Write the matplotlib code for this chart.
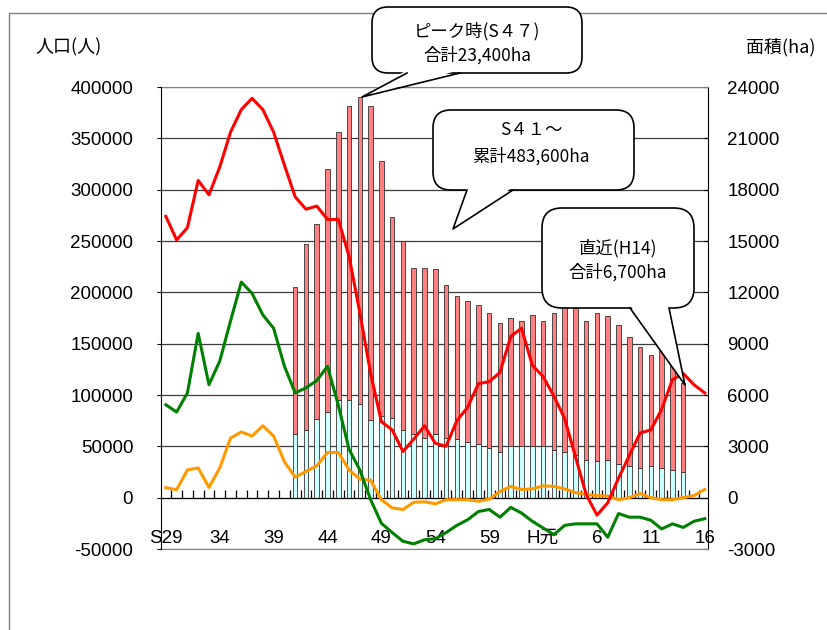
import matplotlib
matplotlib.use('Agg')
import matplotlib.pyplot as plt
from matplotlib.patches import FancyBboxPatch, Polygon, Rectangle
from matplotlib.lines import Line2D
from matplotlib.transforms import Affine2D
import numpy as np

plt.rcParams['font.family'] = ['Liberation Sans', 'Noto Sans CJK JP']

# ---------------- data ----------------
# fiscal years S29 (1954) ... H16 (2004), index 0..50
year_index = list(range(51))
xtick_pos = [0, 5, 10, 15, 20, 25, 30, 35, 40, 45, 50]
xtick_labels = ['S29', '34', '39', '44', '49', '54', '59', 'H元', '6', '11', '16']

red_pop = [274000, 251000, 263000, 309000, 295000, 322000, 356000, 378000, 389000, 378000,
           356000, 324000, 293000, 281000, 284000, 271000, 271000, 235000, 180000, 121000,
           74000, 66000, 45000, 57000, 70000, 53000, 50000, 75000, 88000, 111000,
           113000, 122000, 157000, 165000, 129000, 118000, 99000, 77000, 40000, 3000,
           -17000, -5000, 19000, 41000, 63000, 66000, 86000, 115000, 121000, 110000,
           102000]
green_pop = [90500, 83400, 102000, 160000, 110000, 133000, 172000, 210000, 199000, 178000,
             165000, 128000, 102000, 107000, 114000, 128000, 90000, 47000, 27000, -2000,
             -25000, -34000, -42500, -45000, -41000, -40000, -34000, -27000, -21500, -13500,
             -11500, -19000, -9500, -15000, -23000, -29500, -36000, -27000, -25500, -25500,
             -25500, -38500, -15500, -19000, -19000, -22000, -30500, -25500, -29000, -23000,
             -20500]
orange_pop = [9700, 7800, 27000, 29000, 10000, 29000, 58000, 64000, 60000, 70000,
              60000, 35000, 20000, 25500, 31000, 44000, 44000, 27000, 18000, 17000,
              -2000, -10000, -11500, -4500, -4000, -6000, -2000, -2000, -2000, -3500,
              -1500, 6000, 11000, 8000, 8500, 11500, 11000, 8500, 5000, 3000,
              2000, 1500, -2000, 0, 4000, 0, -2000, -2000, 0, 2000,
              8000]

# bars (ha), S41 (index 12) ... H14 (index 48)
bar_index = list(range(12, 49))
bar_total = [12300, 14800, 16000, 19200, 21350, 22900, 23400, 22900, 19700, 16400,
             15000, 13450, 13450, 13350, 12400, 11800, 11500, 11250, 10780, 10200,
             10490, 10300, 10650, 10300, 10780, 11230, 11080, 10300, 10780, 10590,
             10100, 9380, 8830, 8350, 8600, 7730, 6700]
bar_lower = [3720, 3950, 4620, 5000, 5700, 5680, 5500, 4520, 4770, 4630,
             3950, 3720, 3490, 3720, 3490, 3450, 3230, 3130, 2900, 2670,
             3040, 3040, 3000, 3000, 2800, 2670, 2510, 2220, 2120, 2220,
             1970, 1870, 1730, 1870, 1730, 1600, 1500]

left_ticks = list(range(-50000, 400001, 50000))
right_ticks = list(range(-3000, 24001, 3000))

# ---------------- figure ----------------
W, H = 827, 630
fig = plt.figure(figsize=(W / 100, H / 100), dpi=100)
px = Affine2D().scale(1 / W, -1 / H).translate(0, 1) + fig.transFigure

ax = fig.add_axes([161 / W, (H - 549) / H, 547 / W, 462 / H])
axb = ax.twinx()
axb.set_zorder(ax.get_zorder() - 1)
ax.patch.set_visible(False)
axb.patch.set_visible(True)
axb.patch.set_facecolor('white')

# bars (right axis)
bx = np.array(bar_index)
lower = np.array(bar_lower)
upper = np.array(bar_total) - lower
axb.bar(bx, lower, width=0.42, color='#CCFFFF', edgecolor='#333333', linewidth=0.6, zorder=2)
axb.bar(bx, upper, bottom=lower, width=0.42, color='#FF8080', edgecolor='#333333',
        linewidth=0.6, zorder=2)
axb.set_ylim(-3000, 24000)
axb.set_yticks(right_ticks)
axb.set_yticklabels([str(v) for v in right_ticks])
axb.yaxis.grid(True, color='#3c3c3c', linewidth=0.9)
axb.set_axisbelow(True)
axb.tick_params(axis='y', direction='in', length=3, pad=14, labelsize=13.5, colors='black')
axb.spines['left'].set_visible(False)
axb.spines['right'].set_color('black')
axb.spines['top'].set_color('#808080')
axb.spines['bottom'].set_color('#808080')

# lines (left axis)
x = np.array(year_index)
ax.plot(x, orange_pop, color='#FF9900', linewidth=2.2, zorder=3)
ax.plot(x, green_pop, color='#008000', linewidth=2.2, zorder=3)
ax.plot(x, red_pop, color='#FF0000', linewidth=2.2, zorder=3)
ax.set_xlim(-0.45, 50.3)
ax.set_ylim(-50000, 400000)
ax.set_yticks(left_ticks)
ax.set_yticklabels([str(v) for v in left_ticks])
ax.tick_params(axis='y', direction='out', length=3, pad=17, labelsize=13.5)

for s in ['top', 'right']:
    ax.spines[s].set_visible(False)
ax.spines['bottom'].set_position(('data', 0))
ax.spines['bottom'].set_color('black')
ax.spines['bottom'].set_zorder(2.5)
ax.set_xticks(np.arange(0.5, 50, 1.0))
ax.set_xticklabels([])
ax.tick_params(axis='x', which='major', direction='in', length=5.5, width=0.9)
ax.set_xticks(xtick_pos, minor=True)
ax.set_xticklabels(xtick_labels, minor=True)
ax.tick_params(axis='x', which='minor', length=0, pad=23, labelsize=13.5)

# axis titles
fig.text(69, 47, '人口(人)', transform=px, ha='center', va='center', fontsize=13,
         family=['Noto Sans CJK JP'])
fig.text(781, 47, '面積(ha)', transform=px, ha='center', va='center', fontsize=13,
         family=['Noto Sans CJK JP'])

# outer frame
fig.add_artist(Rectangle((9, 13), 830, 630, transform=px, fill=False,
                         edgecolor='#808080', linewidth=1.0, zorder=0.5))


def bubble(x0, y0, x1, y1, r, b1, b2, tip, lines, text_y, text_x, fs=12.5):
    box = FancyBboxPatch((x0, y0), x1 - x0, y1 - y0,
                         boxstyle=f'round,pad=0,rounding_size={r}',
                         transform=px, facecolor='white', edgecolor='black',
                         linewidth=1.2, zorder=5)
    fig.add_artist(box)
    tail = Polygon([(b1, y1 - 3), tip, (b2, y1 - 3)], closed=True, transform=px,
                   facecolor='white', edgecolor='none', zorder=6)
    fig.add_artist(tail)
    fig.add_artist(Line2D([b1, tip[0], b2], [y1, tip[1], y1], transform=px,
                          color='black', linewidth=1.2, zorder=7))
    for t, ty in zip(lines, text_y):
        fig.text(text_x, ty, t, transform=px, ha='center', va='center', fontsize=fs,
                 family=['Noto Sans CJK JP'], zorder=8)


bubble(372, 7, 582, 73, 16, 407, 460, (362, 97),
       ['ピーク時(S４７)', '合計23,400ha'], [31, 55], 477)
bubble(433, 110, 634, 190, 18, 467, 513, (453, 229),
       ['S４１～', '累計483,600ha'], [130, 156], 531)
bubble(542, 208, 694, 308, 20, 630, 669, (685, 385),
       ['直近(H14)', '合計6,700ha'], [248, 272], 618)

fig.savefig('out.png', dpi=100, facecolor='white')
